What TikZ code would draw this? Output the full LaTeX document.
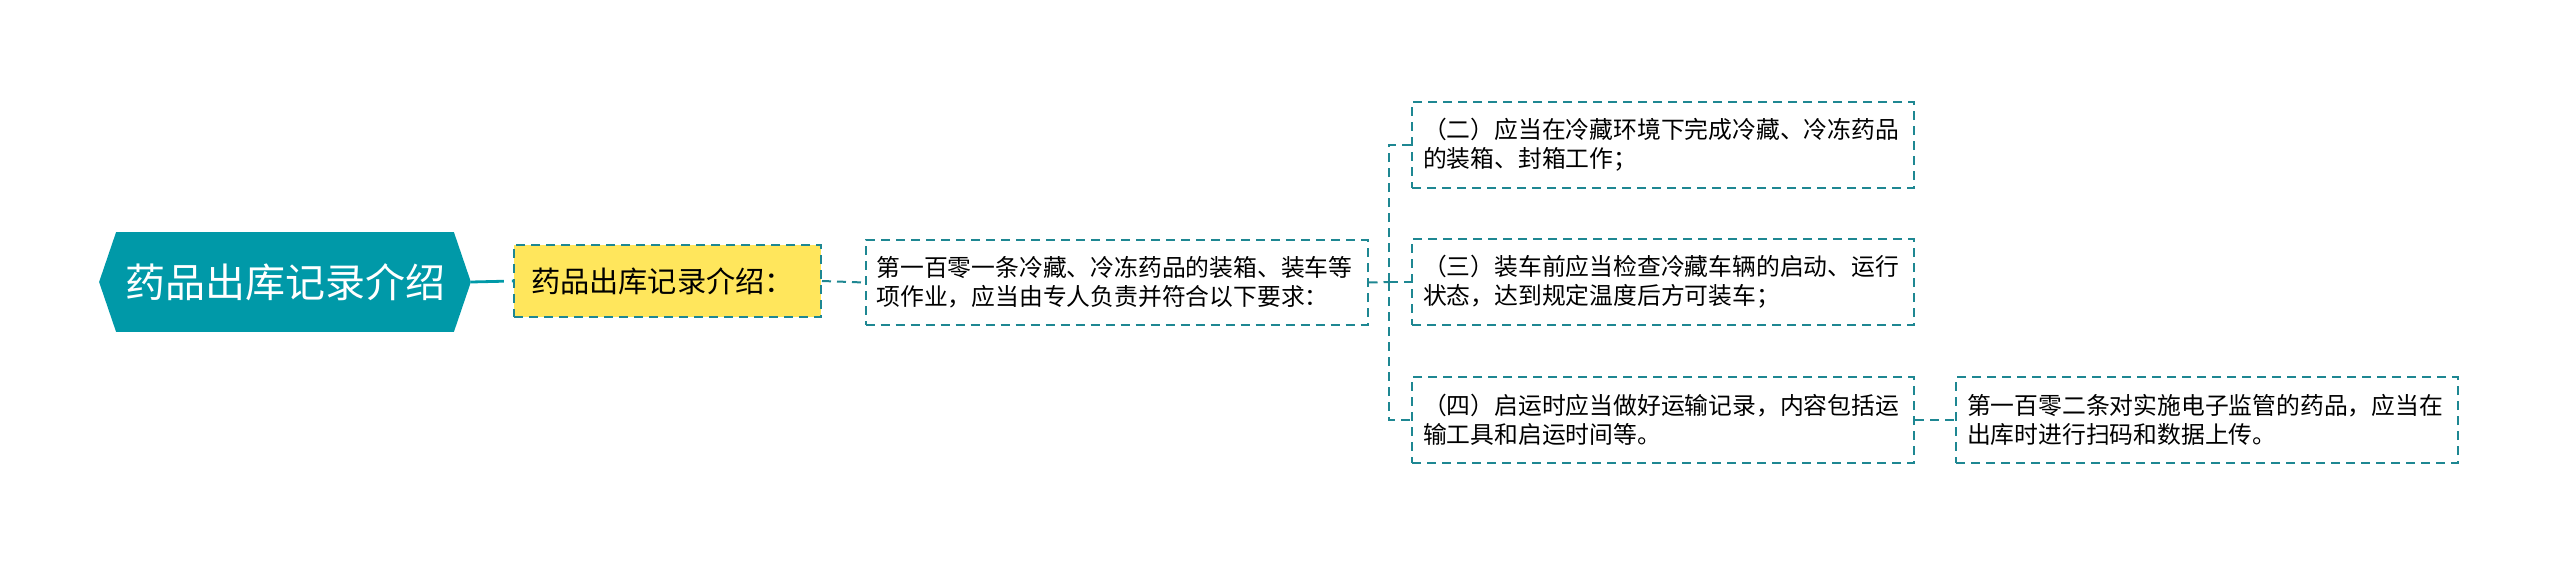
\documentclass[tikz,border=0pt]{standalone}
\usepackage{fontspec}
\setmainfont{Noto Sans CJK SC}
\usetikzlibrary{backgrounds}
\definecolor{rootteal}{RGB}{0,153,168}
\definecolor{lineteal}{RGB}{30,135,146}
\definecolor{boxyellow}{RGB}{255,230,92}

\begin{document}
\begin{tikzpicture}[x=0.5pt,y=-0.5pt,
  box/.style={draw=lineteal,line width=1pt,dash pattern=on 4.5pt off 3pt,fill=white,
    align=left,inner xsep=5.5pt,inner ysep=0pt,text width=240pt,minimum height=43pt,
    font=\fontsize{11.9pt}{14.5pt}\selectfont},
  link/.style={draw=lineteal,line width=1pt,dash pattern=on 4.5pt off 3pt}]
\useasboundingbox (0,0) rectangle (2560,563);
\node[minimum width=185.5pt,minimum height=49.5pt,inner sep=0pt,text=white,
  font=\fontsize{20pt}{24pt}\selectfont] (root) at (285,282) {药品出库记录介绍};
\begin{scope}[on background layer]
\fill[rootteal] (root.west) -- ([xshift=8.5pt]root.north west) -- ([xshift=-8.5pt]root.north east)
  -- (root.east) -- ([xshift=-8.5pt]root.south east) -- ([xshift=8.5pt]root.south west) -- cycle;
\end{scope}
\node[box,fill=boxyellow,inner xsep=8.5pt,text width=136.5pt,minimum height=36pt,
  font=\fontsize{14.6pt}{18pt}\selectfont] (intro) at (667.5,281) {药品出库记录介绍：};
\node[box,minimum height=42.5pt] (art101) at (1116.5,282.5)
  {第一百零一条冷藏、冷冻药品的装箱、装车等\\项作业，应当由专人负责并符合以下要求：};
\node[box] (item2) at (1663,145)
  {（二）应当在冷藏环境下完成冷藏、冷冻药品\\的装箱、封箱工作；};
\node[box] (item3) at (1663,282)
  {（三）装车前应当检查冷藏车辆的启动、运行\\状态，达到规定温度后方可装车；};
\node[box] (item4) at (1663,420)
  {（四）启运时应当做好运输记录，内容包括运\\输工具和启运时间等。};
\node[box] (art102) at (2207,420)
  {第一百零二条对实施电子监管的药品，应当在\\出库时进行扫码和数据上传。};
\coordinate (fork) at (1389,282);
% connectors
\draw[rootteal,line width=1.4pt,dash pattern=on 16.5pt off 4pt on 4pt off 4pt] (root.east) -- (intro.west);
\draw[link] (intro.east) -- (art101.west);
\draw[link] (art101.east) -- (fork);
\foreach \n in {item2,item3,item4}
  \draw[link] (fork) |- (\n.west);
\draw[link] (item4.east) -- (art102.west);
\end{tikzpicture}
\end{document}
